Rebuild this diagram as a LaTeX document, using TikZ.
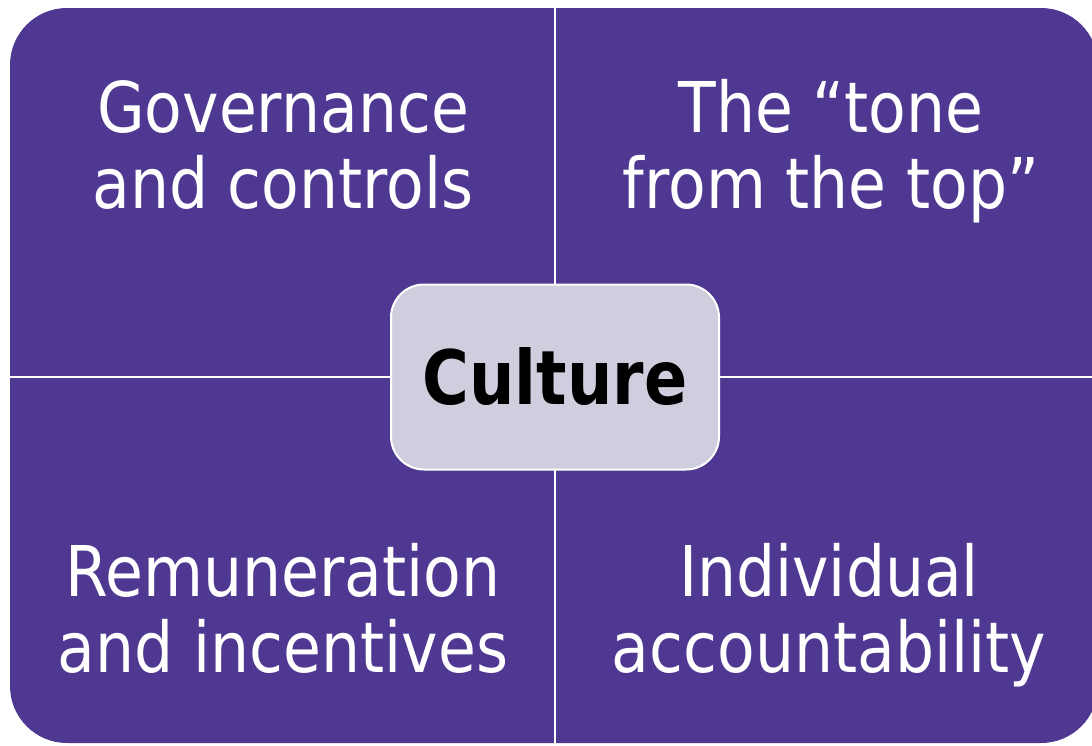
\documentclass[tikz,border=0pt]{standalone}
\usepackage{fontspec}
\newfontfamily\quadfont[FakeStretch=0.88]{DejaVu Sans}
\newfontfamily\corefont[FakeStretch=0.85]{DejaVu Sans Bold}
\definecolor{panelpurple}{HTML}{4E3892}
\definecolor{corefill}{HTML}{D0CEDE}
\tikzset{
  panel/.style={fill=panelpurple, rounded corners=57pt},
  divider/.style={draw=white, line width=2.4pt},
  quadtext/.style={text=white, align=center, inner sep=0pt,
    font=\quadfont\fontsize{70}{76}\selectfont},
  corebox/.style={rectangle, rounded corners=33pt, fill=corefill, draw=white,
    line width=2pt, minimum width=328pt, minimum height=185pt, inner sep=0pt,
    font=\corefont\fontsize{75}{80}\selectfont, text=black}
}
\begin{document}
\begin{tikzpicture}[x=1pt,y=-1pt]
  \useasboundingbox (0,0) rectangle (1092,745);
  \clip (0,0) rectangle (1092,745);
  % purple matrix background
  \path[panel] (10,8) rectangle (1098,743);
  % end points of the dividing lines
  \coordinate (ntop) at (555,8);
  \coordinate (nbot) at (555,743);
  \coordinate (nleft) at (10,377);
  \coordinate (nright) at (1098,377);
  \coordinate (mid) at (555,377);
  \draw[divider] (ntop) -- (nbot);
  \draw[divider] (nleft) -- (nright);
  % quadrant labels (base anchor sits on the last line)
  \node[quadtext, anchor=base] (gov) at (283,208) {Governance\\and controls};
  \node[quadtext, anchor=base] (tone) at (831,208) {The “tone\\from the top”};
  \node[quadtext, anchor=base] (rem) at (283,672) {Remuneration\\and incentives};
  \node[quadtext, anchor=base] (ind) at (829,672) {Individual\\accountability};
  % central box
  \node[corebox] (culture) at (mid) {Culture};
\end{tikzpicture}
\end{document}
